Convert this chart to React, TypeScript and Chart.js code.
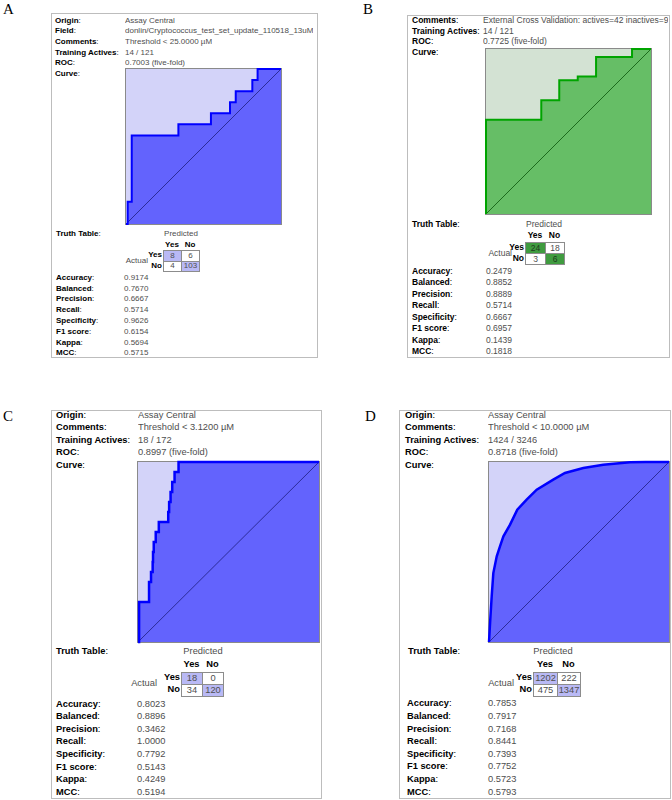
import React, { useEffect, useRef } from "react";
import { Chart, registerables } from "chart.js";
Chart.register(...registerables);

const FONT = '"Liberation Sans", Arial, Helvetica, sans-serif';
const SERIF = '"Liberation Serif", "Times New Roman", serif';

// ---------------- data ----------------
const infoLabelsA = ["Origin", "Field", "Comments", "Training Actives", "ROC", "Curve"];
const infoValuesA = ["Assay Central", "donlin/Cryptococcus_test_set_update_110518_13uM", "Threshold < 25.0000 \u00B5M", "14 / 121", "0.7003 (five-fold)", ""];
const infoLabelsB = ["Comments", "Training Actives", "ROC", "Curve"];
const infoValuesB = ["External Cross Validation: actives=42 inactives=9", "14 / 121", "0.7725 (five-fold)", ""];
const infoLabelsCD = ["Origin", "Comments", "Training Actives", "ROC", "Curve"];
const infoValuesC = ["Assay Central", "Threshold < 3.1200 \u00B5M", "18 / 172", "0.8997 (five-fold)", ""];
const infoValuesD = ["Assay Central", "Threshold < 10.0000 \u00B5M", "1424 / 3246", "0.8718 (five-fold)", ""];

const metricLabels = ["Accuracy", "Balanced", "Precision", "Recall", "Specificity", "F1 score", "Kappa", "MCC"];
const metricsA = ["0.9174", "0.7670", "0.6667", "0.5714", "0.9626", "0.6154", "0.5694", "0.5715"];
const metricsB = ["0.2479", "0.8852", "0.8889", "0.5714", "0.6667", "0.6957", "0.1439", "0.1818"];
const metricsC = ["0.8023", "0.8896", "0.3462", "1.0000", "0.7792", "0.5143", "0.4249", "0.5194"];
const metricsD = ["0.7853", "0.7917", "0.7168", "0.8441", "0.7393", "0.7752", "0.5723", "0.5793"];

// truth tables: [actual yes/pred yes, actual yes/pred no, actual no/pred yes, actual no/pred no]
const truthA = [8, 6, 4, 103];
const truthB = [24, 18, 3, 6];
const truthC = [18, 0, 34, 120];
const truthD = [1202, 222, 475, 1347];

// ROC curves (false positive rate, true positive rate)
const fprA = [0, 0.011, 0.037, 0.338, 0.548, 0.671, 0.708, 0.815, 0.849, 1];
const tprA = [0, 0.143, 0.571, 0.643, 0.714, 0.786, 0.857, 0.929, 1, 1];
const fprB = [0, 0, 0.335, 0.444, 0.556, 0.667, 0.885, 1];
const tprB = [0, 0.571, 0.69, 0.81, 0.833, 0.952, 1, 1];
const fprC = [0, 0.006, 0.061, 0.072, 0.081, 0.083, 0.087, 0.098, 0.115, 0.167, 0.172, 0.18, 0.189, 0.202, 0.224, 1];
const tprC = [0, 0.222, 0.333, 0.389, 0.444, 0.5, 0.556, 0.611, 0.667, 0.722, 0.778, 0.833, 0.889, 0.944, 1, 1];
const fprD = [0, 0.007, 0.015, 0.024, 0.043, 0.061, 0.08, 0.117, 0.157, 0.209, 0.265, 0.357, 0.422, 0.524, 0.635, 0.783, 0.87, 1];
const tprD = [0, 0.124, 0.254, 0.383, 0.476, 0.531, 0.587, 0.652, 0.735, 0.791, 0.846, 0.902, 0.939, 0.967, 0.985, 0.998, 1, 1];
const diagX = [0, 1];
const diagY = [0, 1];

// ---------------- styles ----------------
const BLUE = { fill: "#6363fd", bg: "#d3d3f9", line: "#0000ff", diag: "#2c2c99", cell: "#b9b9f5" };
const GREEN = { fill: "#66be66", bg: "#d3e2d3", line: "#00a400", diag: "#1d6b1d", cell: "#3f9b3f" };

function RocChart(props: any) {
  const { fpr, tpr, stepped, colors, plot, lw } = props;
  const ref = useRef<HTMLCanvasElement>(null);
  const pad = 3;
  useEffect(() => {
    const chart = new Chart(ref.current as HTMLCanvasElement, {
      type: "line",
      data: {
        datasets: [
          {
            data: fpr.map((x: number, i: number) => ({ x, y: tpr[i] })),
            borderColor: colors.line,
            backgroundColor: colors.fill,
            borderWidth: lw,
            fill: "origin",
            stepped: stepped ? "before" : false,
            tension: 0,
            pointRadius: 0,
            clip: false,
          } as any,
          {
            data: diagX.map((x, i) => ({ x, y: diagY[i] })),
            borderColor: colors.diag,
            borderWidth: 1,
            fill: false,
            pointRadius: 0,
          },
        ],
      },
      options: {
        responsive: false,
        animation: false,
        events: [],
        layout: { padding: pad },
        scales: {
          x: { type: "linear", min: 0, max: 1, display: false },
          y: { type: "linear", min: 0, max: 1, display: false },
        },
        plugins: {
          legend: { display: false },
          tooltip: { enabled: false },
          filler: { drawTime: "beforeDatasetsDraw" },
        } as any,
      },
      plugins: [
        {
          id: "plotbg",
          beforeDraw(c: any) {
            const { ctx, chartArea: a } = c;
            ctx.save();
            ctx.fillStyle = colors.bg;
            ctx.fillRect(a.left, a.top, a.right - a.left, a.bottom - a.top);
            ctx.strokeStyle = "#8a8a8a";
            ctx.lineWidth = 1;
            ctx.strokeRect(a.left - 0.5, a.top - 0.5, a.right - a.left + 1, a.bottom - a.top + 1);
            ctx.restore();
          },
        },
      ],
    });
    return () => chart.destroy();
  }, []);
  return (
    <canvas
      ref={ref}
      width={plot.w + 2 * pad}
      height={plot.h + 2 * pad}
      style={{ position: "absolute", left: plot.l - pad, top: plot.t - pad }}
    />
  );
}

function T(props: any) {
  const { x, y, fs, bold, color, align, maxW, children } = props;
  const style: any = {
    position: "absolute",
    top: y - fs / 2,
    fontSize: fs,
    lineHeight: fs + "px",
    fontFamily: FONT,
    whiteSpace: "nowrap",
    color: color || "#000",
    fontWeight: bold ? "bold" : "normal",
  };
  if (align === "center") {
    style.left = x;
    style.transform = "translateX(-50%)";
  } else if (align === "right") {
    style.right = 672 - x;
  } else {
    style.left = x;
  }
  if (maxW) {
    style.maxWidth = maxW;
    style.overflow = "hidden";
  }
  return <div style={style}>{children}</div>;
}

const VAL = "#4e4e4e";

function Label(props: any) {
  return (
    <T x={props.x} y={props.y} fs={props.fs}>
      <span style={{ fontWeight: "bold" }}>{props.text}</span>:
    </T>
  );
}

function Panel(props: any) {
  const { g, letter, infoLabels, infoValues, metrics, truth, colors, fpr, tpr, stepped } = props;
  const fs = g.fs;
  const els: any[] = [];
  els.push(
    <div key="letter" style={{ position: "absolute", left: g.letterX, top: g.letterY - 9, fontFamily: SERIF, fontSize: 15, lineHeight: "18px", color: "#000" }}>
      {letter}
    </div>
  );
  els.push(
    <div key="box" style={{ position: "absolute", left: g.box[0], top: g.box[1], width: g.box[2] - g.box[0], height: g.box[3] - g.box[1], border: "1px solid #bdbdbd", boxSizing: "border-box", background: "#fff" }} />
  );
  infoLabels.forEach((lab: string, i: number) => {
    const y = g.rowY0 + i * g.rowStep;
    els.push(<Label key={"il" + i} x={g.labelX} y={y} fs={fs} text={lab} />);
    if (infoValues[i])
      els.push(
        <T key={"iv" + i} x={g.valueX} y={y} fs={fs} color={VAL} maxW={g.box[2] - g.valueX - 2}>
          {infoValues[i]}
        </T>
      );
  });
  // truth table
  els.push(<Label key="tt" x={g.ttX} y={g.ttY} fs={fs} text="Truth Table" />);
  els.push(<T key="pred" x={g.predX} y={g.ttY} fs={fs} color={VAL} align="center">Predicted</T>);
  const cx = g.colX;
  const ry = g.rowYs;
  els.push(<T key="hy" x={(cx[0] + cx[1]) / 2} y={g.headY} fs={fs} bold align="center">Yes</T>);
  els.push(<T key="hn" x={(cx[1] + cx[2]) / 2} y={g.headY} fs={fs} bold align="center">No</T>);
  els.push(<T key="act" x={g.actualR} y={(ry[0] + ry[2]) / 2} fs={fs} color={VAL} align="right">Actual</T>);
  els.push(<T key="ry" x={cx[0] - 1} y={(ry[0] + ry[1]) / 2} fs={fs} bold align="right">Yes</T>);
  els.push(<T key="rn" x={cx[0] - 1} y={(ry[1] + ry[2]) / 2} fs={fs} bold align="right">No</T>);
  for (let r = 0; r < 2; r++)
    for (let c = 0; c < 2; c++) {
      const diag = r === c;
      els.push(
        <div
          key={"cell" + r + c}
          style={{
            position: "absolute",
            left: cx[c],
            top: ry[r],
            width: cx[c + 1] - cx[c] + 1,
            height: ry[r + 1] - ry[r] + 1,
            boxSizing: "border-box",
            border: "1px solid #8c8c8c",
            background: diag ? colors.cell : "#fff",
          }}
        />
      );
      els.push(
        <T key={"cv" + r + c} x={(cx[c] + cx[c + 1]) / 2 + 0.5} y={(ry[r] + ry[r + 1]) / 2 + 0.5} fs={fs} color={diag && colors === GREEN ? "#1e3a1e" : VAL} align="center">
          {String(truth[r * 2 + c])}
        </T>
      );
    }
  metricLabels.forEach((lab, i) => {
    const y = g.mY0 + i * g.mStep;
    els.push(<Label key={"ml" + i} x={g.mLabelX} y={y} fs={fs} text={lab} />);
    els.push(<T key={"mv" + i} x={g.mValueX} y={y} fs={fs} color={VAL}>{metrics[i]}</T>);
  });
  els.push(<RocChart key="roc" fpr={fpr} tpr={tpr} stepped={stepped} colors={colors} plot={g.plot} lw={g.lw} />);
  return <>{els}</>;
}

const geoA = {
  letterX: 3, letterY: 9, box: [51, 13, 318, 358], fs: 8,
  labelX: 55, valueX: 125, rowY0: 20.7, rowStep: 10.67,
  plot: { l: 126, t: 69, w: 155, h: 155 }, lw: 2,
  ttX: 56, ttY: 234, predX: 181, headY: 245,
  colX: [163, 181, 199], rowYs: [250, 260.5, 271], actualR: 148,
  mY0: 277.7, mStep: 10.8, mLabelX: 56, mValueX: 124,
};
const geoB = {
  letterX: 363, letterY: 9, box: [407, 15, 670, 358], fs: 8.5,
  labelX: 412, valueX: 483, rowY0: 20, rowStep: 10.8,
  plot: { l: 486, t: 49, w: 165, h: 165 }, lw: 2,
  ttX: 412, ttY: 224, predX: 544, headY: 235,
  colX: [525, 545, 564], rowYs: [242, 253, 264], actualR: 512,
  mY0: 271, mStep: 11.5, mLabelX: 412, mValueX: 486,
};
const geoC = {
  letterX: 3, letterY: 416, box: [51, 410, 322, 799], fs: 9.3,
  labelX: 56, valueX: 138, rowY0: 415.7, rowStep: 12.4,
  plot: { l: 138, t: 462, w: 181, h: 180 }, lw: 2.5,
  ttX: 56, ttY: 652, predX: 203, headY: 665,
  colX: [181, 202, 223], rowYs: [672, 684, 696], actualR: 157,
  mY0: 704.3, mStep: 12.6, mLabelX: 56, mValueX: 137,
};
const geoD = {
  letterX: 365, letterY: 416, box: [399, 410, 671, 799], fs: 9.3,
  labelX: 405, valueX: 488, rowY0: 415.7, rowStep: 12.4,
  plot: { l: 489, t: 462, w: 180, h: 180 }, lw: 2.5,
  ttX: 408, ttY: 652, predX: 553, headY: 665,
  colX: [533, 557, 580], rowYs: [672, 684, 696], actualR: 514,
  mY0: 704, mStep: 12.6, mLabelX: 407, mValueX: 488,
};

export default function App() {
  return (
    <div style={{ position: "absolute", left: 0, top: 0, width: 672, height: 800, background: "#fff", overflow: "hidden" }}>
      <Panel g={geoA} letter="A" infoLabels={infoLabelsA} infoValues={infoValuesA} metrics={metricsA} truth={truthA} colors={BLUE} fpr={fprA} tpr={tprA} stepped />
      <Panel g={geoB} letter="B" infoLabels={infoLabelsB} infoValues={infoValuesB} metrics={metricsB} truth={truthB} colors={GREEN} fpr={fprB} tpr={tprB} stepped />
      <Panel g={geoC} letter="C" infoLabels={infoLabelsCD} infoValues={infoValuesC} metrics={metricsC} truth={truthC} colors={BLUE} fpr={fprC} tpr={tprC} stepped />
      <Panel g={geoD} letter="D" infoLabels={infoLabelsCD} infoValues={infoValuesD} metrics={metricsD} truth={truthD} colors={BLUE} fpr={fprD} tpr={tprD} stepped={false} />
    </div>
  );
}
